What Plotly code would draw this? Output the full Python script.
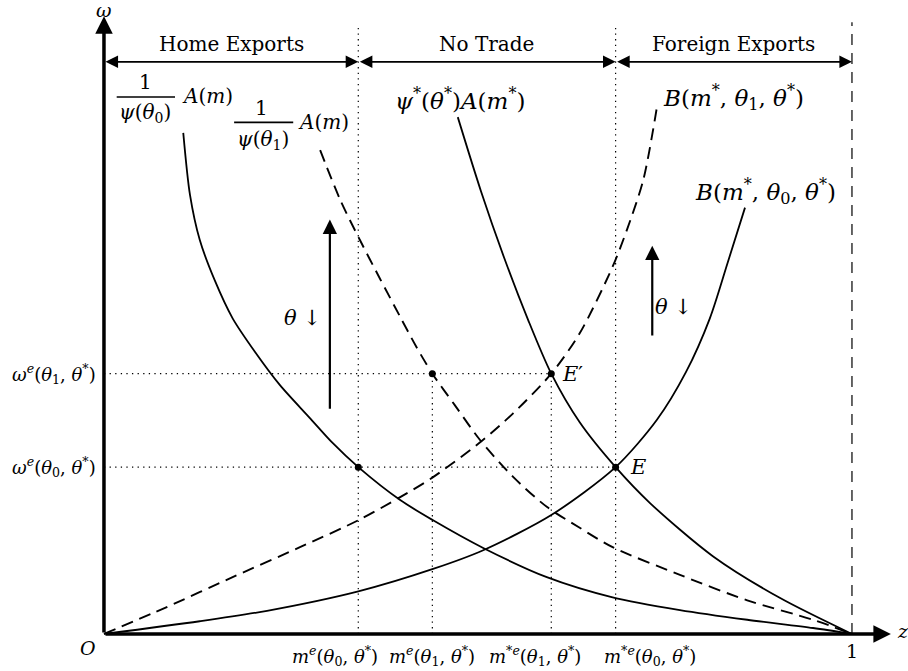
import plotly.graph_objects as go

# ---------------------------------------------------------------
# Schedules in the (z, omega) plane, sampled along each curve
# ---------------------------------------------------------------
# Home schedule 1/psi(theta_0) A(m)  (solid)
home0_z = [0.106, 0.115, 0.128, 0.148, 0.172, 0.202, 0.235, 0.275, 0.306, 0.340,
           0.396, 0.440, 0.507, 0.592, 0.680, 0.770, 0.860, 0.948, 1.000]
home0_w = [0.670, 0.587, 0.527, 0.473, 0.422, 0.377, 0.333, 0.289, 0.255, 0.223,
           0.179, 0.152, 0.115, 0.076, 0.049, 0.032, 0.019, 0.008, 0.000]

# Home schedule 1/psi(theta_1) A(m)  (dashed)
home1_z = [0.289, 0.316, 0.342, 0.369, 0.396, 0.417, 0.439, 0.469, 0.503, 0.547,
           0.592, 0.636, 0.680, 0.770, 0.860, 0.948, 1.000]
home1_w = [0.647, 0.580, 0.527, 0.475, 0.424, 0.385, 0.348, 0.306, 0.259, 0.210,
           0.170, 0.142, 0.116, 0.079, 0.045, 0.019, 0.000]

# Foreign schedule psi*(theta*) A(m*)  (solid)
foreign_z = [0.473, 0.504, 0.535, 0.567, 0.598, 0.636, 0.684, 0.730, 0.814, 0.904, 1.000]
foreign_w = [0.691, 0.592, 0.503, 0.420, 0.348, 0.283, 0.223, 0.175, 0.104, 0.048, 0.000]

# B(m*, theta_1, theta*)  (dashed)
b1_z = [0.000, 0.084, 0.172, 0.262, 0.340, 0.396, 0.439, 0.505, 0.547, 0.598,
        0.636, 0.680, 0.699, 0.721, 0.739]
b1_w = [0.000, 0.036, 0.076, 0.116, 0.152, 0.183, 0.209, 0.258, 0.295, 0.348,
        0.402, 0.491, 0.540, 0.607, 0.703]

# B(m*, theta_0, theta*)  (solid)
b0_z = [0.000, 0.128, 0.218, 0.340, 0.440, 0.507, 0.598, 0.684, 0.739, 0.778,
        0.810, 0.834, 0.857]
b0_w = [0.000, 0.017, 0.031, 0.057, 0.087, 0.112, 0.159, 0.223, 0.286, 0.350,
        0.422, 0.497, 0.570]

# Equilibrium cut-offs and wages
m_eq = [0.340, 0.439, 0.598, 0.684]      # m^e(th0), m^e(th1), m*^e(th1), m*^e(th0)
w_eq = [0.223, 0.348]                     # omega^e(th0), omega^e(th1)

omega_labels = [
    "<i>ω</i><sup><i>e</i></sup>(<i>θ</i><sub>0</sub>, <i>θ</i><sup>*</sup>)",
    "<i>ω</i><sup><i>e</i></sup>(<i>θ</i><sub>1</sub>, <i>θ</i><sup>*</sup>)",
]
m_labels = [
    "<i>m</i><sup><i>e</i></sup>(<i>θ</i><sub>0</sub>, <i>θ</i><sup>*</sup>)",
    "<i>m</i><sup><i>e</i></sup>(<i>θ</i><sub>1</sub>, <i>θ</i><sup>*</sup>)",
    "<i>m</i><sup>*<i>e</i></sup>(<i>θ</i><sub>1</sub>, <i>θ</i><sup>*</sup>)",
    "<i>m</i><sup>*<i>e</i></sup>(<i>θ</i><sub>0</sub>, <i>θ</i><sup>*</sup>)",
]
regions = ["Home Exports", "No Trade", "Foreign Exports"]

FONT = "DejaVu Serif"
INK = "black"

fig = go.Figure()


def line(xs, ys, dash="solid", width=1.8, spline=True):
    fig.add_trace(go.Scatter(
        x=xs, y=ys, mode="lines", hoverinfo="skip", showlegend=False,
        line=dict(color=INK, width=width, dash=dash,
                  shape="spline" if spline else "linear", smoothing=0.8)))


DOT = "1.3px,4.3px"
DASH = "12px,7px"

# guide lines (dotted)
line([m_eq[0], m_eq[0]], [0, 0.814], DOT, 1.2, False)
line([m_eq[3], m_eq[3]], [0, 0.814], DOT, 1.2, False)
line([m_eq[1], m_eq[1]], [0, w_eq[1]], DOT, 1.2, False)
line([m_eq[2], m_eq[2]], [0, w_eq[1]], DOT, 1.2, False)
line([0, m_eq[2]], [w_eq[1], w_eq[1]], DOT, 1.2, False)
line([0, m_eq[3]], [w_eq[0], w_eq[0]], DOT, 1.2, False)
# z = 1 boundary (dashed)
line([1, 1], [0, 0.818], "11px,8px", 1.2, False)

# schedules
line(home0_z, home0_w)
line(home1_z, home1_w, DASH, 1.9)
line(foreign_z, foreign_w)
line(b1_z, b1_w, DASH, 1.9)
line(b0_z, b0_w)

# equilibrium points
fig.add_trace(go.Scatter(
    x=[m_eq[0], m_eq[1], m_eq[2], m_eq[3]],
    y=[w_eq[0], w_eq[1], w_eq[1], w_eq[0]],
    mode="markers", hoverinfo="skip", showlegend=False,
    marker=dict(color=INK, size=7)))

ann = []


def text(x, y, s, size=20, **kw):
    d = dict(x=x, y=y, xref="x", yref="y", text=s, showarrow=False,
             font=dict(family=FONT, size=size, color=INK))
    d.update(kw)
    ann.append(d)


def arrow(x0, y0, x1, y1, width=1.8, size=1.4, both=False):
    ann.append(dict(x=x1, y=y1, ax=x0, ay=y0, xref="x", yref="y",
                    axref="x", ayref="y", text="", showarrow=True,
                    arrowhead=2, arrowsize=size, arrowwidth=width,
                    arrowcolor=INK, standoff=0, startstandoff=0,
                    startarrowhead=2, startarrowsize=size,
                    arrowside="end+start" if both else "end"))


# axes
arrow(0, 0, 0, 0.826, width=3.5, size=1.0)
arrow(0, 0, 1.052, 0, width=3.5, size=1.0)
text(0, 0.834, "<i>ω</i>", 19)
text(1.068, 0.004, "<i>z</i>", 19)
text(-0.021, -0.019, "<i>O</i>", 19)
text(1.0, -0.023, "1", 19)

# trade regions along the top
bounds = [0, m_eq[0], m_eq[3], 1]
for i, name in enumerate(regions):
    arrow(bounds[i], 0.765, bounds[i + 1], 0.765, width=1.8, size=1.4, both=True)
    text((bounds[i] + bounds[i + 1]) / 2, 0.789, name, 20)

# wage labels on the vertical axis
for w, lab in zip(w_eq, omega_labels):
    text(0, w, lab, 18, xanchor="right", xshift=-6)

# cut-off labels under the horizontal axis
m_shift = [-23, 0, -16, 34]
for m, lab, sh in zip(m_eq, m_labels, m_shift):
    text(m, 0, lab, 18, yshift=-22, xshift=sh)

# curve labels
text(0.056, 0.738, "1", 20)
text(0.055, 0.697, "<i>ψ</i>(<i>θ</i><sub>0</sub>)", 20)
text(0.138, 0.719, "<i>A</i>(<i>m</i>)", 20)
text(0.211, 0.703, "1", 20)
text(0.212, 0.660, "<i>ψ</i>(<i>θ</i><sub>1</sub>)", 20)
text(0.293, 0.684, "<i>A</i>(<i>m</i>)", 20)
text(0.476, 0.715, "<i>ψ</i><sup>*</sup>(<i>θ</i><sup>*</sup>)<i>A</i>(<i>m</i><sup>*</sup>)", 23)
text(0.842, 0.717, "<i>B</i>(<i>m</i><sup>*</sup>, <i>θ</i><sub>1</sub>, <i>θ</i><sup>*</sup>)", 23)
text(0.884, 0.592, "<i>B</i>(<i>m</i><sup>*</sup>, <i>θ</i><sub>0</sub>, <i>θ</i><sup>*</sup>)", 23)

# equilibrium tags
text(0.612, w_eq[1], "<i>E</i>′", 21, xanchor="left", xshift=-2)
text(0.703, w_eq[0], "<i>E</i>", 21, xanchor="left", xshift=-2)

# shift arrows for a fall in theta
arrow(0.302, 0.299, 0.302, 0.554, width=2.2, size=1.3)
text(0.266, 0.422, "<i>θ</i> ↓", 21)
arrow(0.733, 0.397, 0.733, 0.519, width=2.2, size=1.3)
text(0.762, 0.437, "<i>θ</i> ↓", 21)

fraction_bars = [
    dict(type="line", xref="x", yref="y", x0=0.017, x1=0.095, y0=0.718, y1=0.718,
         line=dict(color=INK, width=1.6)),
    dict(type="line", xref="x", yref="y", x0=0.174, x1=0.253, y0=0.684, y1=0.684,
         line=dict(color=INK, width=1.6)),
]

fig.update_layout(
    width=908, height=671, autosize=False,
    margin=dict(l=0, r=0, t=0, b=0),
    paper_bgcolor="white", plot_bgcolor="white",
    xaxis=dict(range=[-0.1390, 1.0749], visible=False, fixedrange=True),
    yaxis=dict(range=[-0.0495, 0.8476], visible=False, fixedrange=True),
    annotations=ann, shapes=fraction_bars, showlegend=False,
)

fig.write_html("out.html", config={"displayModeBar": False})
